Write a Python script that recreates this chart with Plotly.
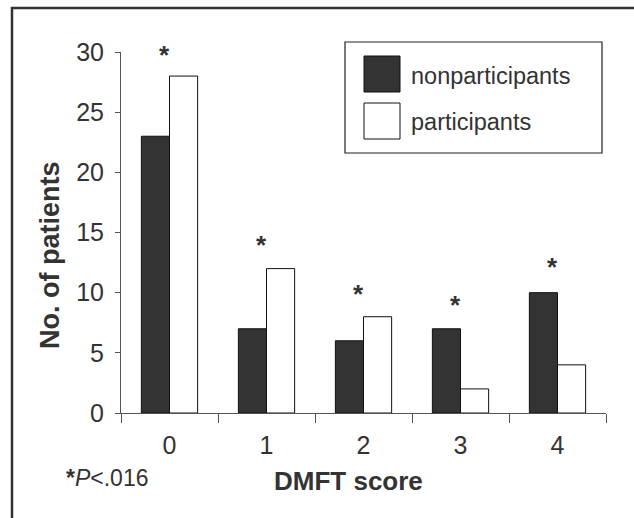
import plotly.graph_objects as go

categories = ["0", "1", "2", "3", "4"]
nonparticipants = [23, 7, 6, 7, 10]
participants = [28, 12, 8, 2, 4]
asterisk_y = [30, 14.2, 10.1, 9.25, 12.4]
series_names = ["nonparticipants", "participants"]
y_ticks = [0, 5, 10, 15, 20, 25, 30]

FONT = "Liberation Sans, Arial, Helvetica, sans-serif"
DARK = "#333333"
TXT = "#333333"

fig = go.Figure()
fig.add_trace(go.Bar(x=categories, y=nonparticipants, name=series_names[0],
                     marker=dict(color=DARK, line=dict(color="#111111", width=1))))
fig.add_trace(go.Bar(x=categories, y=participants, name=series_names[1],
                     marker=dict(color="#ffffff", line=dict(color="#111111", width=1))))

annotations = []
for c, ay in zip(categories, asterisk_y):
    annotations.append(dict(x=c, y=ay, xref="x", yref="y", text="<b>*</b>",
                            showarrow=False, xshift=-5, yshift=-3,
                            xanchor="center", yanchor="middle",
                            font=dict(family=FONT, size=26, color=TXT)))


def px(x):
    return (x - 121) / 485


def py(y):
    return (413 - y) / 361


# axis titles
annotations.append(dict(x=px(348), y=py(481), xref="paper", yref="paper",
                        xanchor="center", yanchor="middle",
                        text="<b>DMFT score</b>", showarrow=False,
                        font=dict(family=FONT, size=26, color=TXT)))
annotations.append(dict(x=px(50), y=py(255), xref="paper", yref="paper",
                        xanchor="center", yanchor="middle",
                        text="<b>No. of patients</b>", showarrow=False, textangle=-90,
                        font=dict(family=FONT, size=27, color=TXT)))
annotations.append(dict(x=px(64), y=py(478), xref="paper", yref="paper",
                        xanchor="left", yanchor="middle",
                        text="<b>*</b><i>P</i><.016", showarrow=False,
                        font=dict(family=FONT, size=23, color=TXT)))

shapes = [
    # outer frame
    dict(type="rect", xref="paper", yref="paper", x0=px(12), x1=px(660), y0=py(540), y1=py(8),
         line=dict(color="#333333", width=2.5), fillcolor="rgba(0,0,0,0)", layer="above"),
    # legend box
    dict(type="rect", xref="paper", yref="paper", x0=px(345), x1=px(602), y0=py(153), y1=py(42),
         line=dict(color="#222222", width=1.2), fillcolor="#ffffff", layer="above"),
    dict(type="rect", xref="paper", yref="paper", x0=px(364), x1=px(400), y0=py(92), y1=py(56),
         line=dict(color="#111111", width=1), fillcolor=DARK, layer="above"),
    dict(type="rect", xref="paper", yref="paper", x0=px(364), x1=px(400), y0=py(139), y1=py(103),
         line=dict(color="#111111", width=1), fillcolor="#ffffff", layer="above"),
]
annotations.append(dict(x=px(409), y=py(76), xref="paper", yref="paper",
                        xanchor="left", yanchor="middle",
                        text=series_names[0], showarrow=False,
                        font=dict(family=FONT, size=23.5, color=TXT)))
annotations.append(dict(x=px(409), y=py(122), xref="paper", yref="paper",
                        xanchor="left", yanchor="middle",
                        text=series_names[1], showarrow=False,
                        font=dict(family=FONT, size=23.5, color=TXT)))

fig.update_layout(
    width=634, height=518,
    margin=dict(l=121, r=28, t=52, b=105),
    paper_bgcolor="#ffffff", plot_bgcolor="#ffffff",
    barmode="group", bargap=0.42, bargroupgap=0,
    showlegend=False,
    annotations=annotations, shapes=shapes,
    font=dict(family=FONT, color=TXT),
)
fig.update_xaxes(type="category", categoryorder="array", categoryarray=categories,
                 range=[-0.5, 4.5], tickson="boundaries", ticks="outside", ticklen=9,
                 tickcolor="#555555", showline=True, linecolor="#555555", linewidth=1,
                 showgrid=False, zeroline=False, ticklabelstandoff=10,
                 tickfont=dict(family=FONT, size=25, color=TXT))
fig.update_yaxes(range=[0, 30], tickvals=y_ticks, ticks="outside", ticklen=5,
                 tickcolor="#555555", showline=True, linecolor="#555555", linewidth=1,
                 showgrid=False, zeroline=False, ticklabelstandoff=6,
                 tickfont=dict(family=FONT, size=25, color=TXT))

fig.write_html("out.html", config={"displayModeBar": False},
               post_script="document.body.style.margin='0';")
